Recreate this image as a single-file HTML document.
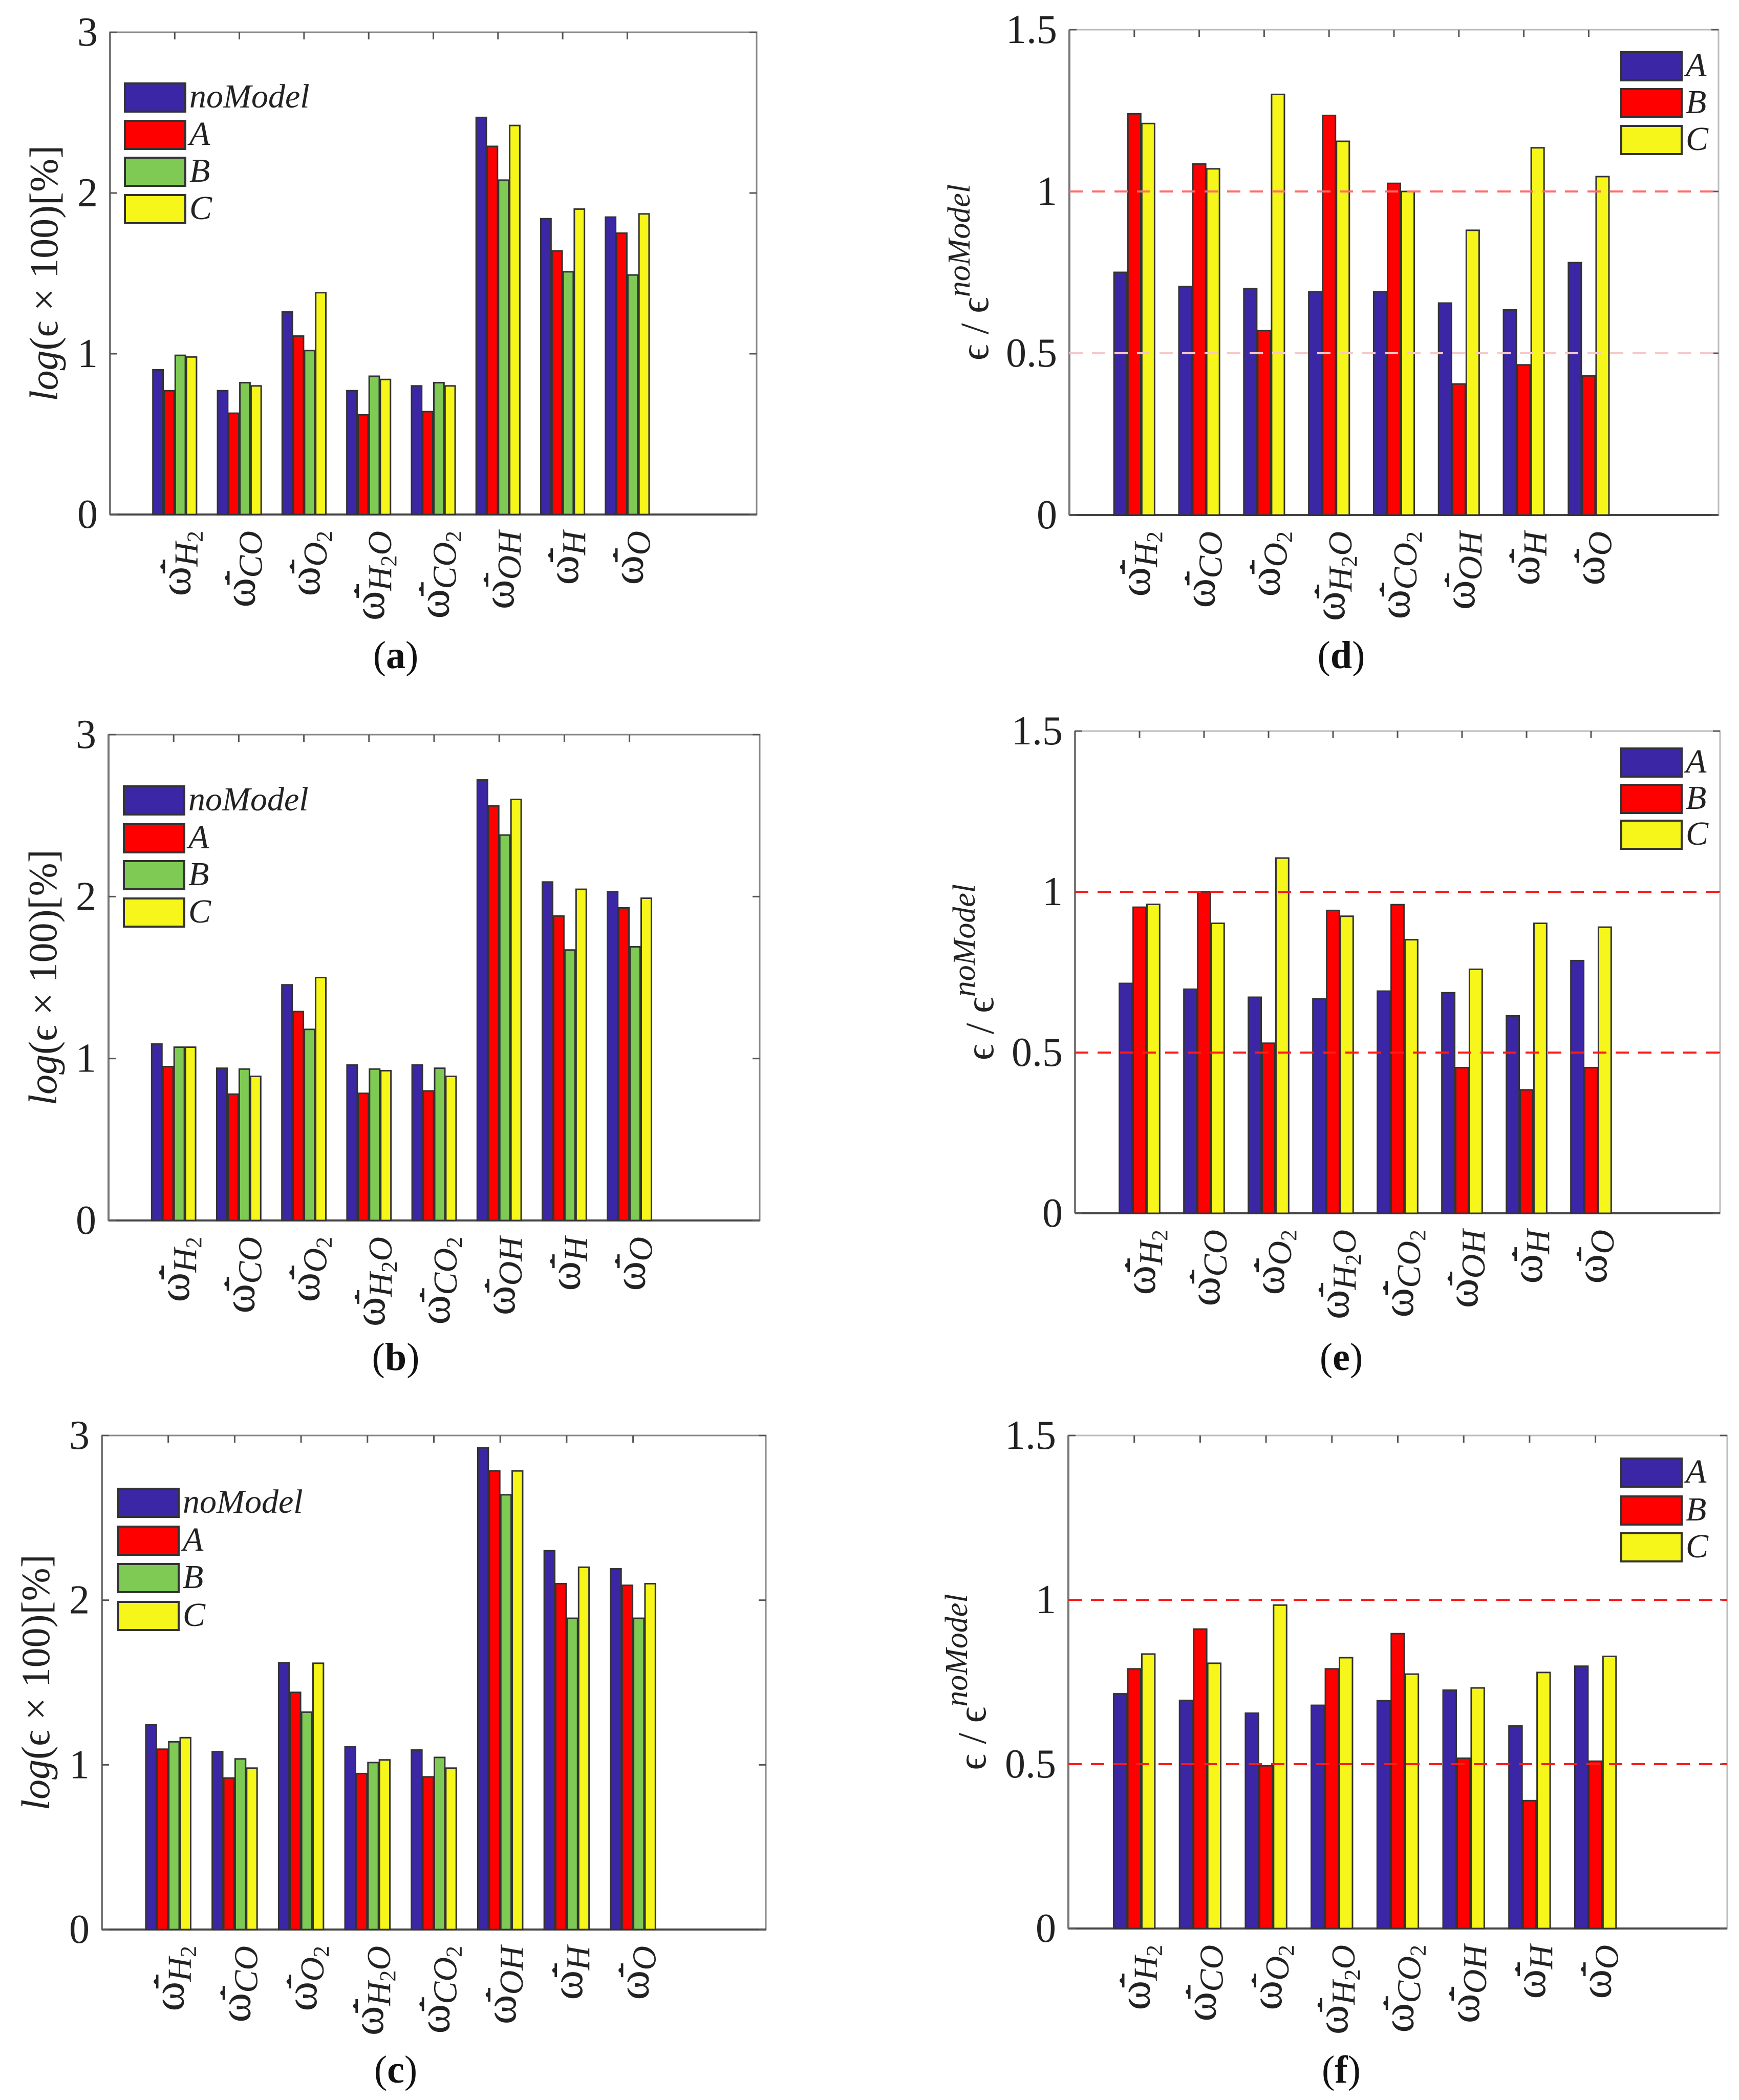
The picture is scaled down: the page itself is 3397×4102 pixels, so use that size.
<!DOCTYPE html>
<html><head><meta charset="utf-8"><style>
html,body{margin:0;padding:0;background:#fff;}
svg{display:block;}
text{font-family:"Liberation Serif",serif;}
</style></head><body>
<svg id="fig" xmlns="http://www.w3.org/2000/svg" width="3397" height="4102" viewBox="0 0 3397 4102"></svg>
<script>
// Categories
const categories = ["H2","CO","O2","H2O","CO2","OH","H","O"];
// Panel a (log error) series: noModel, A, B, C
const aNoModel = [0.90,0.77,1.26,0.77,0.80,2.47,1.84,1.85];
const aA       = [0.77,0.63,1.11,0.62,0.64,2.29,1.64,1.75];
const aB       = [0.99,0.82,1.02,0.86,0.82,2.08,1.51,1.49];
const aC       = [0.98,0.80,1.38,0.84,0.80,2.42,1.90,1.87];
// Panel b
const bNoModel = [1.09,0.94,1.455,0.96,0.96,2.72,2.09,2.03];
const bA       = [0.95,0.78,1.29,0.785,0.80,2.56,1.88,1.93];
const bB       = [1.07,0.935,1.18,0.935,0.94,2.38,1.67,1.69];
const bC       = [1.07,0.89,1.50,0.925,0.89,2.60,2.045,1.99];
// Panel c
const cNoModel = [1.243,1.08,1.62,1.11,1.09,2.925,2.30,2.19];
const cA       = [1.095,0.92,1.44,0.947,0.927,2.785,2.10,2.09];
const cB       = [1.14,1.036,1.32,1.014,1.045,2.64,1.89,1.89];
const cC       = [1.165,0.98,1.617,1.03,0.98,2.785,2.20,2.10];
// Panel d (ratio) series: A, B, C
const dA = [0.75,0.706,0.70,0.69,0.69,0.655,0.634,0.78];
const dB = [1.24,1.085,0.57,1.235,1.025,0.405,0.464,0.43];
const dC = [1.21,1.07,1.30,1.155,1.00,0.88,1.135,1.046];
// Panel e
const eA = [0.715,0.697,0.672,0.667,0.691,0.686,0.614,0.786];
const eB = [0.952,1.00,0.529,0.942,0.96,0.453,0.384,0.453];
const eC = [0.961,0.902,1.105,0.924,0.851,0.759,0.902,0.89];
// Panel f
const fA = [0.714,0.694,0.655,0.679,0.693,0.725,0.616,0.798];
const fB = [0.79,0.911,0.495,0.79,0.897,0.518,0.389,0.509];
const fC = [0.835,0.807,0.984,0.824,0.774,0.732,0.779,0.828];
// Tick labels
const logTicks = [0,1,2,3];
const logTickLabels = ["0","1","2","3"];
const ratioTicks = [0,0.5,1,1.5];
const ratioTickLabels = ["0","0.5","1","1.5"];
const refLines = [0.5,1];
const leftLegend = ["noModel","A","B","C"];
const rightLegend = ["A","B","C"];

const NS = "http://www.w3.org/2000/svg";
const svg = document.getElementById("fig");
const BLUE="#3b27a6", RED="#ff0000", GREEN="#7fca55", YELLOW="#f6f61a";
function mk(tag, attrs, parent){
  const e = document.createElementNS(NS, tag);
  for (const k in attrs) e.setAttribute(k, attrs[k]);
  (parent||svg).appendChild(e);
  return e;
}
const subs = {H2:["H","2"],CO:["CO",""],O2:["O","2"],H2O:["H","2","O"],CO2:["CO","2"],OH:["OH",""],H:["H",""],O:["O",""]};

function panel(cfg){
  const g = mk("g",{});
  
  
  const {L,R,T,B,ymax,series,names,colors,ticks,tickLabels,groupW} = cfg;
  const xs = v => L + (R-L)*v/10;
  const ys = v => B - (B-T)*v/ymax;
  const box = mk("rect",{x:L,y:T,width:R-L,height:B-T,fill:"none",stroke:cfg.boxColor,"stroke-width":3},g);
  
  
  mk("line",{x1:L,x2:R,y1:B,y2:B,stroke:"#444","stroke-width":4},g);
  mk("line",{x1:L,x2:L,y1:T,y2:B,stroke:"#777","stroke-width":4},g);
  ticks.forEach((t,i)=>{
    const y = ys(t);
    const tk = mk("line",{x1:L,x2:L+14,y1:y,y2:y,stroke:"#555","stroke-width":3},g);
    
    
    mk("line",{x1:R-14,x2:R,y1:y,y2:y,stroke:"#555","stroke-width":3},g);
    const lb = mk("text",{x:L-24,y:y+26,"font-size":80,"text-anchor":"end",fill:"#222"},g);
    lb.textContent = tickLabels[i];
    
    
  });
  const n = series.length, bw = groupW/n;
  categories.forEach((c,ci)=>{
    const cx = xs(ci+1);
    mk("line",{x1:cx,x2:cx,y1:T,y2:T+14,stroke:"#555","stroke-width":3},g);
    mk("line",{x1:cx,x2:cx,y1:B-14,y2:B,stroke:"#555","stroke-width":3},g);
    series.forEach((s,si)=>{
      const x0 = xs(ci+1 - groupW/2 + si*bw);
      const w = xs(bw)-xs(0);
      const y = ys(s[ci]);
      const r = mk("rect",{x:x0+1,y:y,width:w-2,height:B-y,fill:colors[si],stroke:"#333","stroke-width":3},g);
      
      
    });
    const bx = cx + 30, by = B + 32;
    const t = mk("text",{transform:`translate(${bx},${by}) rotate(-90)`,"text-anchor":"end","font-size":88,fill:"#222"},g);
    
    
    const p = subs[c];
    const t1 = mk("tspan",{},t); t1.textContent = "ω̄̇";
    const t2 = mk("tspan",{"font-style":"italic","font-size":66,dy:14},t); t2.textContent = p[0];
    if (p[1]){ const t3 = mk("tspan",{"font-size":44,dy:10},t); t3.textContent = p[1]; }
    if (p[2]){ const t4 = mk("tspan",{"font-style":"italic","font-size":66,dy:-10},t); t4.textContent = p[2]; }
  });
  (cfg.refs||[]).forEach((v,i)=>{
    const y = ys(v);
    const ln = mk("line",{x1:L,x2:R,y1:y,y2:y,stroke:cfg.refColors[i],"stroke-width":4,"stroke-dasharray":"26 18"},g);
    
    
  });
  const yl = mk("text",{transform:`translate(${cfg.ylx},${(T+B)/2}) rotate(-90)`,"text-anchor":"middle","font-size":78,fill:"#222"},g);
  
  
  if (cfg.ratio){
    const a = mk("tspan",{},yl); a.textContent = "ϵ / ϵ";
    const b2 = mk("tspan",{"font-style":"italic","font-size":62,dy:-36},yl); b2.textContent = "noModel";
  } else {
    const a = mk("tspan",{"font-style":"italic"},yl); a.textContent = "log";
    const b2 = mk("tspan",{},yl); b2.textContent = "(ϵ × 100)[%]";
  }
  cfg.legY.forEach((ly,i)=>{
    const lg = mk("g",{},g);
    
    
    mk("rect",{x:cfg.legX,y:ly,width:cfg.legW,height:cfg.legH,fill:colors[i],stroke:"#333","stroke-width":4},lg);
    const lt = mk("text",{x:cfg.legX+cfg.legW+8,y:ly+cfg.legH-8,"font-size":66,"font-style":"italic",fill:"#222"},lg);
    lt.textContent = cfg.legendLabels[i];
  });
  const cap = mk("text",{x:cfg.capX,y:cfg.capY,"font-size":76,"text-anchor":"middle",fill:"#111"},g);
  
  
  const c1 = mk("tspan",{},cap); c1.textContent="(";
  const c2 = mk("tspan",{"font-weight":"bold"},cap); c2.textContent=cfg.cap;
  const c3 = mk("tspan",{},cap); c3.textContent=")";
}
const leftCommon = {ymax:3,ticks:logTicks,tickLabels:logTickLabels,groupW:0.69,names:["noModel","A","B","C"],colors:[BLUE,RED,GREEN,YELLOW],legendLabels:leftLegend,legW:118,legH:55,boxColor:"#888"};
const rightCommon = {ymax:1.5,ticks:ratioTicks,tickLabels:ratioTickLabels,groupW:0.64,names:["A","B","C"],colors:[BLUE,RED,YELLOW],legendLabels:rightLegend,legW:118,legH:55,ratio:true,refs:refLines,boxColor:"#bbb"};
panel(Object.assign({},leftCommon,{name:"panel-a",L:215,R:1478,T:63,B:1005,series:[aNoModel,aA,aB,aC],ylx:112,legX:244,legY:[163,236,308,381],cap:"a",capX:773,capY:1305}));
panel(Object.assign({},leftCommon,{name:"panel-b",L:212,R:1484,T:1435,B:2384,series:[bNoModel,bA,bB,bC],ylx:110,legX:242,legY:[1536,1610,1682,1755],cap:"b",capX:773,capY:2676}));
panel(Object.assign({},leftCommon,{name:"panel-c",L:199,R:1496,T:2804,B:3769,series:[cNoModel,cA,cB,cC],ylx:96,legX:231,legY:[2908,2982,3055,3129],cap:"c",capX:773,capY:4068}));
panel(Object.assign({},rightCommon,{name:"panel-d",L:2089,R:3357,T:58,B:1006,series:[dA,dB,dC],ylx:1930,legX:3167,legY:[102,174,246],cap:"d",capX:2620,capY:1305,refColors:["#f7c8c8","#ff6b6b"]}));
panel(Object.assign({},rightCommon,{name:"panel-e",L:2100,R:3360,T:1428,B:2370,series:[eA,eB,eC],ylx:1940,legX:3167,legY:[1462,1533,1603],cap:"e",capX:2620,capY:2676,refColors:["#ff1a1a","#ff1a1a"]}));
panel(Object.assign({},rightCommon,{name:"panel-f",L:2087,R:3374,T:2804,B:3767,series:[fA,fB,fC],ylx:1925,legX:3167,legY:[2849,2923,2995],cap:"f",capX:2620,capY:4068,refColors:["#ff1a1a","#ff1a1a"]}));
</script>
</body></html>
